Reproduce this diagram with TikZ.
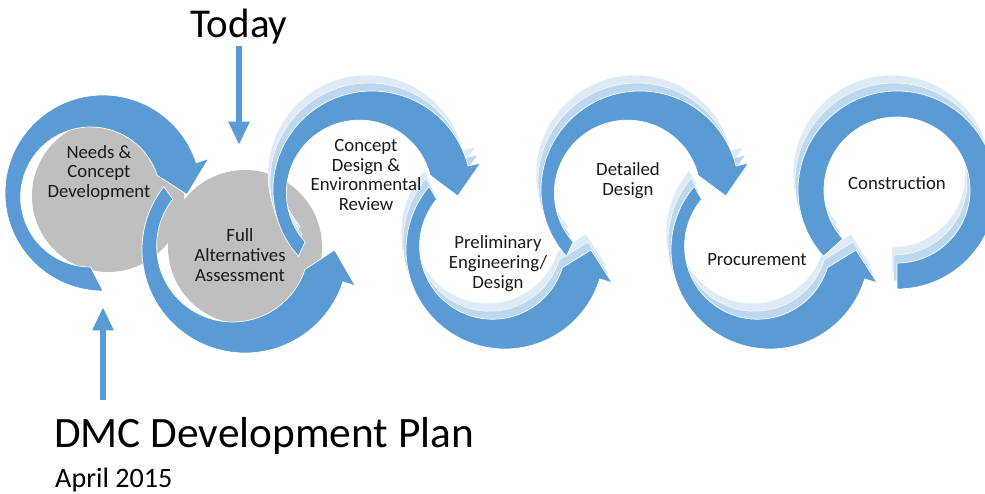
\documentclass[tikz,border=0pt]{standalone}
\usepackage{fontspec}
\setmainfont{Carlito}
\usetikzlibrary{arrows.meta}
\definecolor{ringblue}{HTML}{5B9BD5}
\definecolor{ghostnear}{HTML}{BDD7EE}
\definecolor{ghostfar}{HTML}{DEEBF7}
\definecolor{discgray}{HTML}{BFBFBF}
\definecolor{inkgray}{HTML}{1A1A1A}

% #1 centre, #2 outer radius, #3 inner radius, #4 start, #5 head base, #6 tip, #7 style
\newcommand{\ringarrow}[7]{%
  \filldraw[#7, shift={(#1)}] (#4:#2) arc[start angle=#4, end angle=#5, radius=#2]
    -- (#5:{#2+13}) -- (#6:{(#2+#3)/2}) -- (#5:{#3-13})
    arc[start angle=#5, end angle=#4, radius=#3] -- cycle;}
% same band without a head
\newcommand{\ringband}[6]{%
  \filldraw[#6, shift={(#1)}] (#4:#2) arc[start angle=#4, end angle=#5, radius=#2]
    -- (#5:#3) arc[start angle=#5, end angle=#4, radius=#3] -- cycle;}

\begin{document}
\begin{tikzpicture}[x=0.03cm, y=0.03cm,
  band/.style={fill=ringblue, draw=white, line width=0.6pt},
  ghost/.style={fill=#1, draw=white, line width=0.4pt},
  stage/.style={font=\fontsize{16}{17}\selectfont, align=center, text=inkgray},
  pointer/.style={ringblue, line width=5.5pt, -{Triangle[length=20pt, width=17pt]}}]
  \clip (0,0) rectangle (985,493);

  % grey discs behind the first two steps
  \fill[discgray] (108,297) circle (76);
  \fill[discgray] (245,246) circle (77);

  % first two arrows
  \ringarrow{245,243}{103}{76}{142}{342}{360}{band}
  \ringarrow{103,300}{98}{70}{270}{18}{-1}{band}

  % faded copies behind the later arrows
  \foreach \gx/\gy/\gc in {-5/16/ghostfar, -3/8/ghostnear} {
    \ringband{897,303}{99}{73}{-90}{222}{ghost=\gc, shift={(\gx,\gy)}}
    \foreach \cx/\cy/\st/\bs/\tp in {372/303/222/14/-4, 505/243/140/343/360, 640/303/222/14/-4, 770/243/140/343/360} {
      \ringarrow{\cx,\cy}{99}{73}{\st}{\bs}{\tp}{ghost=\gc, shift={(\gx,\gy)}}
    }
  }

  % the later arrows
  \ringband{897,303}{99}{73}{-90}{222}{band}
  \ringarrow{372,303}{99}{73}{222}{14}{-4}{band}
  \ringarrow{505,243}{99}{73}{140}{343}{360}{band}
  \ringarrow{640,303}{99}{73}{222}{14}{-4}{band}
  \ringarrow{770,243}{99}{73}{140}{343}{360}{band}

  % step labels
  \node[stage] (needs) at (99,320) {Needs \&\\Concept\\Development};
  \node[stage] (full) at (240,238) {Full\\Alternatives\\Assessment};
  \node[stage] (concept) at (366,318) {Concept\\Design \&\\Environmental\\Review};
  \node[stage] (prelim) at (498,229) {Preliminary\\Engineering/\\Design};
  \node[stage] (detailed) at (628,312) {Detailed\\Design};
  \node[stage] (procure) at (757,233) {Procurement};
  \node[stage] (construct) at (897,310) {Construction};

  % markers
  \node[font=\fontsize{35}{40}\selectfont, text=black, inner sep=1pt] (today) at (239,466) {Today};
  \coordinate (todaytip) at (239,348);
  \draw[pointer] (today.south) -- (todaytip);

  \node[font=\fontsize{37}{42}\selectfont, text=black, anchor=base west, inner sep=0pt] (plan) at (54,46) {DMC Development Plan};
  \node[font=\fontsize{24}{28}\selectfont, text=black, anchor=base west, inner sep=0pt] (april) at (55,6) {April 2015};
  \coordinate (planfoot) at (103,93);
  \coordinate (plantip) at (103,186);
  \draw[pointer] (planfoot) -- (plantip);
\end{tikzpicture}
\end{document}
